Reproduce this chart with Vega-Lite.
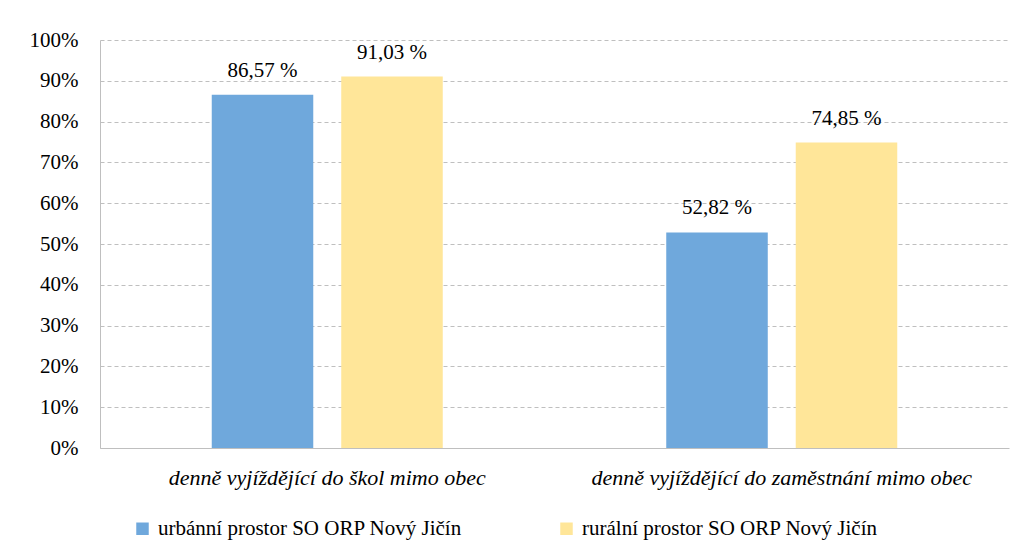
{
  "$schema": "https://vega.github.io/schema/vega-lite/v6.json",
  "width": 909,
  "height": 408,
  "autosize": {"type": "none"},
  "padding": {"left": 100, "top": 40, "right": 19, "bottom": 109},
  "config": {
    "locale": {"number": {"decimal": ",", "thousands": " ", "grouping": [3], "currency": ["", " Kč"], "percent": " %"}},
    "view": {"stroke": null},
    "font": "Liberation Serif, Times New Roman, serif"
  },
  "data": {
    "values": [
      {"kategorie": "denně vyjíždějící do škol mimo obec", "prostor": "urbánní prostor SO ORP Nový Jičín", "podil": 0.8657},
      {"kategorie": "denně vyjíždějící do škol mimo obec", "prostor": "rurální prostor SO ORP Nový Jičín", "podil": 0.9103},
      {"kategorie": "denně vyjíždějící do zaměstnání mimo obec", "prostor": "urbánní prostor SO ORP Nový Jičín", "podil": 0.5282},
      {"kategorie": "denně vyjíždějící do zaměstnání mimo obec", "prostor": "rurální prostor SO ORP Nový Jičín", "podil": 0.7485}
    ]
  },
  "encoding": {
    "x": {
      "field": "kategorie", "type": "nominal", "sort": null,
      "scale": {"paddingInner": 0, "paddingOuter": 0},
      "axis": {"title": null, "labelAngle": 0, "labelFontSize": 22, "labelFontStyle": "italic", "labelColor": "#000000", "ticks": false, "domainColor": "#BFBFBF", "labelPadding": 19, "labelLimit": 800, "labelFont": "Liberation Serif, Times New Roman, serif"}
    },
    "xOffset": {
      "field": "prostor", "type": "nominal",
      "sort": ["urbánní prostor SO ORP Nový Jičín", "rurální prostor SO ORP Nový Jičín"],
      "scale": {"paddingInner": 0.216, "paddingOuter": 0.863}
    },
    "y": {
      "field": "podil", "type": "quantitative",
      "scale": {"domain": [0, 1], "nice": false},
      "axis": {"title": null, "values": [0, 0.1, 0.2, 0.3, 0.4, 0.5, 0.6, 0.7, 0.8, 0.9, 1], "format": ".0%", "labelExpr": "replace(datum.label, ' ', '')", "labelFontSize": 21, "labelColor": "#000000", "ticks": false, "labelPadding": 22, "domainColor": "#BFBFBF", "gridColor": "#BFBFBF", "gridDash": [4, 3], "gridWidth": 1, "labelFont": "Liberation Serif, Times New Roman, serif"}
    }
  },
  "layer": [
    {
      "mark": {"type": "bar"},
      "encoding": {
        "color": {
          "field": "prostor", "type": "nominal",
          "scale": {"domain": ["urbánní prostor SO ORP Nový Jičín", "rurální prostor SO ORP Nový Jičín"], "range": ["#6FA8DC", "#FFE699"]},
          "legend": {"title": null, "orient": "none", "legendX": 32, "legendY": 478, "direction": "horizontal", "columnPadding": 94, "symbolType": "square", "symbolSize": 156, "symbolStrokeWidth": 0, "labelFontSize": 21, "labelOffset": 5, "labelColor": "#000000", "labelFont": "Liberation Serif, Times New Roman, serif", "labelLimit": 500}
        }
      }
    },
    {
      "mark": {"type": "text", "baseline": "alphabetic", "dy": -18, "fontSize": 21, "color": "#000000", "font": "Liberation Serif, Times New Roman, serif"},
      "encoding": {
        "text": {"field": "podil", "type": "quantitative", "format": ".2%"}
      }
    }
  ]
}
